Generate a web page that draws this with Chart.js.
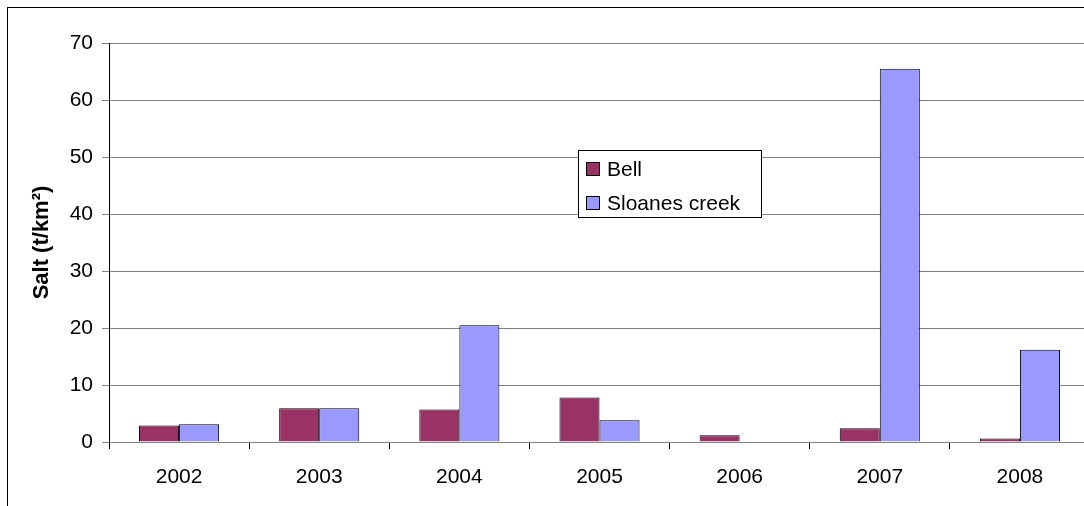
<!DOCTYPE html>
<html lang="en">
<head>
    <meta charset="UTF-8">
    <title>Salt</title>
    <style>
        body { margin: 0; overflow: hidden; background: #fff; }
        #wrap { position: relative; width: 1084px; height: 506px; overflow: hidden; }
        #frame { position: absolute; left: 7px; top: 7px; width: 1200px; height: 600px; border: 1px solid #000; }
        #myChart { position: absolute; left: 0; top: 0; }
    </style>
</head>
<body>
    <div id="wrap">
        <div id="frame"></div>
        <canvas id="myChart" width="1090" height="506"></canvas>
    </div>

    <script src="https://cdn.jsdelivr.net/npm/chart.js"></script>
    <script>
        // data
        let v_years = ["2002", "2003", "2004", "2005", "2006", "2007", "2008"];
        let v_bell = [2.9, 5.9, 5.7, 7.8, 1.2, 2.4, 0.6];
        let v_sloanes = [3.1, 5.9, 20.5, 3.8, 0, 65.5, 16.2];
        let v_yTicks = [0, 10, 20, 30, 40, 50, 60, 70];

        const f_font = "'Liberation Sans', Arial, sans-serif";

        // legend box drawn inside the plot like the original
        const boxLegend = {
            id: 'boxLegend',
            afterDraw(chart) {
                const ctx = chart.ctx;
                ctx.save();
                ctx.fillStyle = '#fff';
                ctx.fillRect(578, 150, 184, 68);
                ctx.strokeStyle = '#000';
                ctx.lineWidth = 1;
                ctx.strokeRect(578.5, 150.5, 183, 67);
                ctx.font = "21px " + f_font;
                ctx.textBaseline = 'middle';
                chart.data.datasets.forEach((ds, i) => {
                    const y = 169 + i * 34;
                    ctx.fillStyle = ds.backgroundColor;
                    ctx.fillRect(586, y - 7, 14, 14);
                    ctx.strokeStyle = '#000';
                    ctx.strokeRect(586.5, y - 6.5, 13, 13);
                    ctx.fillStyle = '#000';
                    ctx.fillText(ds.label, 607, y + 1);
                });
                ctx.restore();
            }
        };

        new Chart(document.getElementById('myChart'), {
            type: 'bar',
            data: {
                labels: v_years,
                datasets: [
                    { label: 'Bell', data: v_bell, backgroundColor: '#993366', borderColor: '#000', borderWidth: 1 },
                    { label: 'Sloanes creek', data: v_sloanes, backgroundColor: '#9999FF', borderColor: '#000', borderWidth: 1 }
                ]
            },
            options: {
                responsive: false,
                animation: false,
                devicePixelRatio: 1,
                categoryPercentage: 80 / 140,
                barPercentage: 1,
                layout: { padding: { top: 43, left: 0, right: 0, bottom: 0 } },
                plugins: { legend: { display: false }, tooltip: { enabled: false } },
                scales: {
                    x: {
                        grid: { offset: true, drawOnChartArea: false, color: '#000', tickLength: 7 },
                        border: { color: '#808080' },
                        ticks: { color: '#000', font: { family: f_font, size: 21 }, padding: 16, maxRotation: 0 },
                        afterFit(scale) { scale.height = 64; }
                    },
                    y: {
                        min: 0,
                        max: 70,
                        afterBuildTicks(scale) { scale.ticks = v_yTicks.map(v => ({ value: v })); },
                        grid: { color: '#808080', tickLength: 7 },
                        border: { color: '#000' },
                        ticks: { color: '#000', font: { family: f_font, size: 21 }, padding: 9 },
                        title: {
                            display: true,
                            text: 'Salt (t/km²)',
                            color: '#000',
                            font: { family: f_font, size: 22, weight: 'bold' },
                            padding: { top: 29, bottom: 0 }
                        },
                        afterFit(scale) { scale.width = 109; }
                    }
                }
            },
            plugins: [boxLegend]
        });
    </script>
</body>
</html>
